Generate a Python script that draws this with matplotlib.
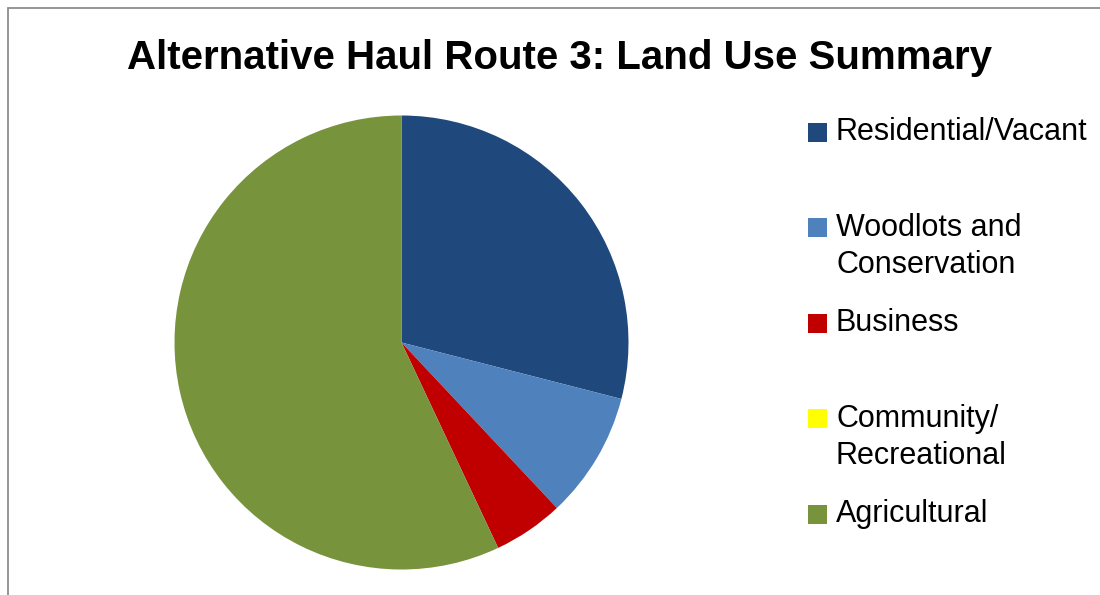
import matplotlib
matplotlib.use("Agg")
import matplotlib.pyplot as plt
from matplotlib.patches import Rectangle

# datos (porcentaje del trazado)
categorias = ["Residential/Vacant", "Woodlots and\nConservation", "Business",
              "Community/\nRecreational", "Agricultural"]
valores = [29.0, 9.0, 5.0, 0.0, 57.0]
colores = ["#1F497D", "#4F81BD", "#C00000", "#FFFF00", "#77933C"]

FUENTE = ["Liberation Sans", "DejaVu Sans"]
W, H = 1100, 595

fig = plt.figure(figsize=(W / 100, H / 100), dpi=100)
fig.patch.set_facecolor("white")

# marco gris del área del gráfico (cortado a la derecha y abajo)
fig.patches.append(Rectangle((7.5 / W, -0.05), 1.2, 1 - 7.5 / H + 0.05,
                             transform=fig.transFigure, fill=False,
                             edgecolor="#8C8C8C", linewidth=1.3))

fig.text(560 / W, 1 - 58 / H, "Alternative Haul Route 3: Land Use Summary",
         ha="center", va="center", fontsize=29, fontweight="bold",
         family=FUENTE)

cx, cy, r = 401.5, 342.5, 227
ax = fig.add_axes([(cx - r) / W, (H - cy - r) / H, 2 * r / W, 2 * r / H])
ax.pie(valores, colors=colores, startangle=90, counterclock=False,
       radius=1, wedgeprops=dict(linewidth=0))
ax.set_xlim(-1, 1)
ax.set_ylim(-1, 1)
ax.set_aspect("equal")
ax.axis("off")

# leyenda manual: cuadrado alineado con la primera línea del texto
y0, paso = 132, 95.5
for i, (cat, col) in enumerate(zip(categorias, colores)):
    y = y0 + i * paso
    fig.patches.append(Rectangle((808 / W, 1 - (y + 9.5) / H), 19 / W, 19 / H,
                                 transform=fig.transFigure, facecolor=col,
                                 edgecolor="none"))
    fig.text(836 / W, 1 - (y - 15) / H, cat, ha="left", va="top",
             fontsize=22, family=FUENTE, linespacing=1.32)

fig.savefig("out.png", dpi=100)
